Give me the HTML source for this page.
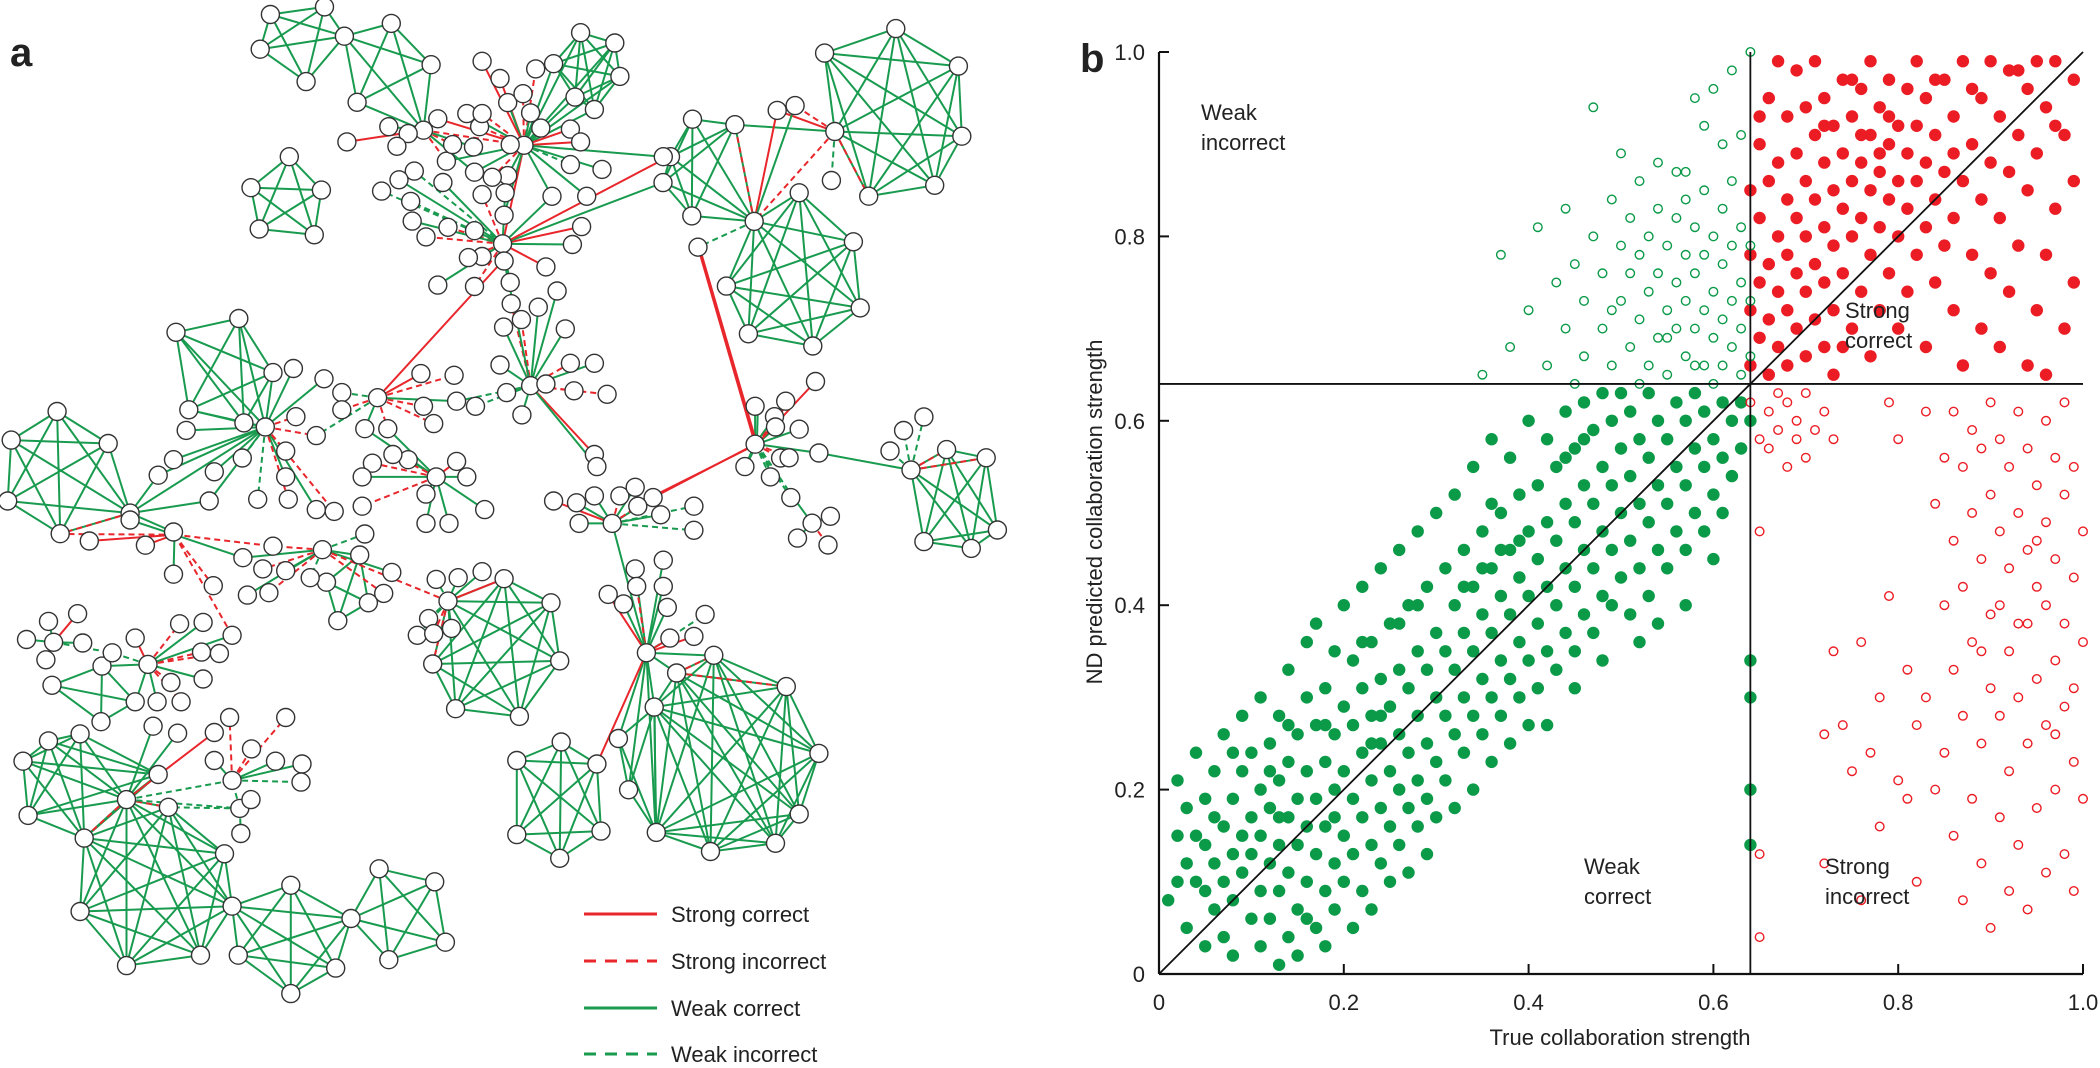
<!DOCTYPE html>
<html><head><meta charset="utf-8"><style>
html,body{margin:0;padding:0;background:#fff;}
svg{display:block;font-family:"Liberation Sans",sans-serif;}
</style></head><body>
<svg id="fig" width="2100" height="1068" viewBox="0 0 2100 1068" xmlns="http://www.w3.org/2000/svg">
<g id="net"></g>
<text x="10" y="66" font-size="40" font-weight="bold" fill="#222">a</text>
<g id="legend">
 <line x1="584" y1="914" x2="657" y2="914" stroke="#e8262b" stroke-width="3"/>
 <text x="671" y="922" font-size="22" fill="#222">Strong correct</text>
 <line x1="584" y1="961" x2="657" y2="961" stroke="#e8262b" stroke-width="3" stroke-dasharray="12,9"/>
 <text x="671" y="969" font-size="22" fill="#222">Strong incorrect</text>
 <line x1="584" y1="1008" x2="657" y2="1008" stroke="#199b4f" stroke-width="3"/>
 <text x="671" y="1016" font-size="22" fill="#222">Weak correct</text>
 <line x1="584" y1="1054" x2="657" y2="1054" stroke="#199b4f" stroke-width="3" stroke-dasharray="12,9"/>
 <text x="671" y="1062" font-size="22" fill="#222">Weak incorrect</text>
</g>
<text x="1080" y="72" font-size="40" font-weight="bold" fill="#222">b</text>
<g id="scatter"></g>
</svg>
<script>
// ---------- scatter data ----------
const xTicks=[0,0.2,0.4,0.6,0.8,1.0];
const yTicks=[0,0.2,0.4,0.6,0.8,1.0];
const tickLabels=["0","0.2","0.4","0.6","0.8","1.0"];
const threshold=0.64;
const weakCorrect=[[0.01,0.08],[0.02,0.15],[0.02,0.21],[0.03,0.05],[0.03,0.12],[0.03,0.18],[0.04,0.10],[0.04,0.24],[0.05,0.03],[0.05,0.14],[0.05,0.19],[0.06,0.07],[0.06,0.12],[0.06,0.22],[0.07,0.04],[0.07,0.16],[0.07,0.10],[0.07,0.26],[0.08,0.13],[0.08,0.19],[0.08,0.08],[0.08,0.02],[0.09,0.15],[0.09,0.22],[0.09,0.11],[0.09,0.28],[0.10,0.06],[0.10,0.17],[0.10,0.13],[0.10,0.24],[0.04,0.15],[0.06,0.17],[0.08,0.24],[0.02,0.10],[0.05,0.09],
[0.11,0.03],[0.11,0.09],[0.11,0.20],[0.11,0.15],[0.11,0.30],[0.12,0.12],[0.12,0.18],[0.12,0.25],[0.12,0.06],[0.13,0.01],[0.13,0.14],[0.13,0.21],[0.13,0.09],[0.13,0.28],[0.14,0.17],[0.14,0.04],[0.14,0.23],[0.14,0.11],[0.14,0.33],[0.15,0.07],[0.15,0.14],[0.15,0.19],[0.15,0.26],[0.15,0.02],[0.16,0.10],[0.16,0.22],[0.16,0.30],[0.16,0.16],[0.16,0.36],[0.17,0.05],[0.17,0.13],[0.17,0.19],[0.17,0.27],[0.17,0.38],[0.18,0.09],[0.18,0.16],[0.18,0.23],[0.18,0.31],[0.18,0.03],[0.19,0.12],[0.19,0.20],[0.19,0.26],[0.19,0.35],[0.19,0.07],[0.20,0.15],[0.20,0.22],[0.20,0.29],[0.20,0.40],[0.20,0.10],[0.12,0.22],[0.14,0.27],[0.16,0.06],[0.18,0.27],[0.13,0.17],[0.19,0.17],
[0.21,0.05],[0.21,0.13],[0.21,0.19],[0.21,0.27],[0.21,0.34],[0.22,0.09],[0.22,0.17],[0.22,0.24],[0.22,0.31],[0.22,0.42],[0.23,0.14],[0.23,0.21],[0.23,0.28],[0.23,0.36],[0.23,0.07],[0.24,0.18],[0.24,0.25],[0.24,0.32],[0.24,0.12],[0.24,0.44],[0.25,0.16],[0.25,0.22],[0.25,0.29],[0.25,0.38],[0.25,0.10],[0.26,0.20],[0.26,0.26],[0.26,0.33],[0.26,0.14],[0.26,0.46],[0.27,0.18],[0.27,0.24],[0.27,0.31],[0.27,0.40],[0.27,0.11],[0.28,0.21],[0.28,0.28],[0.28,0.35],[0.28,0.16],[0.28,0.48],[0.29,0.19],[0.29,0.25],[0.29,0.33],[0.29,0.42],[0.29,0.13],[0.30,0.23],[0.30,0.30],[0.30,0.37],[0.30,0.17],[0.30,0.50],[0.22,0.36],[0.24,0.28],[0.26,0.38],[0.28,0.40],[0.23,0.25],
[0.31,0.21],[0.31,0.28],[0.31,0.35],[0.31,0.44],[0.32,0.18],[0.32,0.26],[0.32,0.33],[0.32,0.40],[0.32,0.52],[0.33,0.24],[0.33,0.30],[0.33,0.37],[0.33,0.46],[0.34,0.20],[0.34,0.28],[0.34,0.35],[0.34,0.42],[0.34,0.55],[0.35,0.26],[0.35,0.32],[0.35,0.39],[0.35,0.48],[0.36,0.23],[0.36,0.30],[0.36,0.37],[0.36,0.44],[0.36,0.58],[0.37,0.28],[0.37,0.34],[0.37,0.41],[0.37,0.50],[0.38,0.25],[0.38,0.32],[0.38,0.39],[0.38,0.46],[0.38,0.56],[0.39,0.30],[0.39,0.36],[0.39,0.43],[0.39,0.52],[0.40,0.27],[0.40,0.34],[0.40,0.41],[0.40,0.48],[0.40,0.60],[0.33,0.42],[0.35,0.44],[0.37,0.46],[0.39,0.47],[0.36,0.51],
[0.41,0.31],[0.41,0.38],[0.41,0.45],[0.41,0.53],[0.42,0.35],[0.42,0.42],[0.42,0.49],[0.42,0.58],[0.43,0.33],[0.43,0.40],[0.43,0.47],[0.43,0.55],[0.44,0.37],[0.44,0.44],[0.44,0.51],[0.44,0.61],[0.45,0.35],[0.45,0.42],[0.45,0.49],[0.45,0.57],[0.46,0.39],[0.46,0.46],[0.46,0.53],[0.46,0.62],[0.47,0.37],[0.47,0.44],[0.47,0.51],[0.47,0.59],[0.48,0.41],[0.48,0.48],[0.48,0.55],[0.48,0.63],[0.49,0.40],[0.49,0.46],[0.49,0.53],[0.49,0.60],[0.50,0.43],[0.50,0.50],[0.50,0.57],[0.50,0.63],[0.42,0.27],[0.45,0.31],[0.48,0.34],[0.44,0.56],[0.46,0.58],
[0.51,0.39],[0.51,0.47],[0.51,0.54],[0.51,0.61],[0.52,0.44],[0.52,0.51],[0.52,0.58],[0.53,0.41],[0.53,0.49],[0.53,0.56],[0.53,0.63],[0.54,0.46],[0.54,0.53],[0.54,0.60],[0.55,0.44],[0.55,0.51],[0.55,0.58],[0.56,0.48],[0.56,0.55],[0.56,0.62],[0.57,0.46],[0.57,0.53],[0.57,0.60],[0.58,0.50],[0.58,0.57],[0.58,0.63],[0.59,0.48],[0.59,0.55],[0.59,0.61],[0.60,0.52],[0.60,0.58],[0.61,0.50],[0.61,0.56],[0.61,0.62],[0.62,0.54],[0.62,0.60],[0.63,0.57],[0.63,0.62],[0.54,0.38],[0.57,0.40],[0.60,0.45],[0.52,0.36],[0.64,0.60],[0.64,0.30],[0.64,0.20],[0.64,0.14],[0.64,0.34]];
const strongCorrect=[[0.64,0.66],[0.64,0.72],[0.64,0.78],[0.65,0.69],[0.65,0.75],[0.65,0.82],[0.65,0.90],[0.66,0.65],[0.66,0.71],[0.66,0.77],[0.66,0.86],[0.66,0.95],[0.67,0.68],[0.67,0.74],[0.67,0.80],[0.67,0.88],[0.68,0.66],[0.68,0.72],[0.68,0.78],[0.68,0.84],[0.68,0.93],[0.69,0.70],[0.69,0.76],[0.69,0.82],[0.69,0.89],[0.69,0.98],[0.70,0.67],[0.70,0.74],[0.70,0.80],[0.70,0.86],[0.70,0.94],[0.64,0.85],[0.65,0.93],[0.67,0.99],
[0.71,0.71],[0.71,0.77],[0.71,0.84],[0.71,0.91],[0.71,0.99],[0.72,0.68],[0.72,0.75],[0.72,0.81],[0.72,0.88],[0.72,0.95],[0.73,0.72],[0.73,0.79],[0.73,0.85],[0.73,0.92],[0.73,0.65],[0.74,0.76],[0.74,0.83],[0.74,0.89],[0.74,0.97],[0.75,0.70],[0.75,0.80],[0.75,0.86],[0.75,0.93],[0.76,0.74],[0.76,0.82],[0.76,0.88],[0.76,0.96],[0.77,0.67],[0.77,0.78],[0.77,0.85],[0.77,0.91],[0.77,0.99],[0.78,0.72],[0.78,0.81],[0.78,0.87],[0.78,0.94],[0.79,0.76],[0.79,0.84],[0.79,0.90],[0.79,0.97],[0.80,0.70],[0.80,0.80],[0.80,0.86],[0.80,0.92],[0.74,0.68],[0.76,0.91],[0.78,0.89],[0.72,0.92],[0.75,0.97],[0.79,0.93],
[0.81,0.74],[0.81,0.83],[0.81,0.89],[0.81,0.96],[0.82,0.78],[0.82,0.86],[0.82,0.92],[0.82,0.99],[0.83,0.68],[0.83,0.81],[0.83,0.88],[0.83,0.95],[0.84,0.75],[0.84,0.84],[0.84,0.91],[0.85,0.79],[0.85,0.87],[0.85,0.97],[0.86,0.72],[0.86,0.82],[0.86,0.93],[0.87,0.66],[0.87,0.86],[0.87,0.99],[0.88,0.78],[0.88,0.90],[0.89,0.70],[0.89,0.84],[0.89,0.95],[0.90,0.76],[0.90,0.88],[0.90,0.99],[0.84,0.97],[0.86,0.89],[0.88,0.96],
[0.91,0.68],[0.91,0.82],[0.91,0.93],[0.92,0.74],[0.92,0.87],[0.92,0.98],[0.93,0.79],[0.93,0.91],[0.94,0.66],[0.94,0.85],[0.94,0.96],[0.95,0.72],[0.95,0.89],[0.96,0.78],[0.96,0.94],[0.97,0.83],[0.97,0.99],[0.98,0.70],[0.98,0.91],[0.99,0.86],[0.99,0.97],[0.99,0.75],[0.96,0.65],[0.93,0.98],[0.97,0.92],[0.95,0.99]];
const weakIncorrect=[[0.35,0.65],[0.37,0.78],[0.38,0.68],[0.40,0.72],[0.41,0.81],[0.42,0.66],[0.43,0.75],[0.44,0.70],[0.44,0.83],[0.45,0.77],[0.46,0.67],[0.46,0.73],[0.47,0.80],[0.47,0.94],[0.48,0.70],[0.48,0.76],[0.49,0.66],[0.49,0.84],[0.50,0.73],[0.50,0.79],[0.50,0.89],[0.51,0.68],[0.51,0.76],[0.51,0.82],[0.52,0.71],[0.52,0.78],[0.52,0.86],[0.53,0.66],[0.53,0.74],[0.53,0.80],[0.54,0.69],[0.54,0.76],[0.54,0.83],[0.55,0.72],[0.55,0.79],[0.55,0.65],[0.56,0.70],[0.56,0.75],[0.56,0.82],[0.56,0.87],[0.57,0.67],[0.57,0.73],[0.57,0.78],[0.57,0.84],[0.58,0.70],[0.58,0.76],[0.58,0.81],[0.58,0.95],[0.59,0.66],[0.59,0.72],[0.59,0.78],[0.59,0.85],[0.60,0.69],[0.60,0.74],[0.60,0.80],[0.60,0.96],[0.61,0.66],[0.61,0.71],[0.61,0.77],[0.61,0.83],[0.62,0.68],[0.62,0.73],[0.62,0.79],[0.62,0.86],[0.62,0.98],[0.63,0.65],[0.63,0.70],[0.63,0.75],[0.63,0.81],[0.63,0.91],[0.64,0.67],[0.64,0.73],[0.64,0.79],[0.64,1.00],[0.55,0.69],[0.58,0.66],[0.60,0.64],[0.52,0.64],[0.49,0.72],[0.45,0.64],[0.57,0.87],[0.61,0.90],[0.54,0.88],[0.59,0.92]];
const strongIncorrect=[[0.64,0.62],[0.65,0.58],[0.65,0.48],[0.65,0.13],[0.65,0.04],[0.66,0.61],[0.66,0.57],[0.67,0.63],[0.67,0.59],[0.68,0.55],[0.68,0.62],[0.69,0.58],[0.69,0.60],[0.70,0.56],[0.70,0.63],[0.71,0.59],[0.72,0.61],[0.72,0.26],[0.72,0.12],[0.73,0.35],[0.73,0.58],[0.74,0.27],[0.75,0.22],[0.76,0.08],[0.76,0.36],[0.77,0.24],[0.78,0.16],[0.78,0.30],[0.79,0.62],[0.79,0.41],[0.80,0.21],[0.80,0.58],[0.81,0.19],[0.81,0.33],[0.82,0.27],[0.82,0.10],[0.83,0.30],[0.83,0.61],[0.84,0.20],[0.84,0.51],[0.85,0.24],[0.85,0.40],[0.85,0.56],[0.86,0.15],[0.86,0.33],[0.86,0.47],[0.86,0.61],[0.87,0.08],[0.87,0.28],[0.87,0.42],[0.87,0.55],[0.88,0.19],[0.88,0.36],[0.88,0.50],[0.88,0.59],[0.89,0.12],[0.89,0.25],[0.89,0.45],[0.89,0.57],[0.90,0.05],[0.90,0.31],[0.90,0.39],[0.90,0.52],[0.90,0.62],[0.91,0.17],[0.91,0.28],[0.91,0.48],[0.91,0.58],[0.92,0.09],[0.92,0.22],[0.92,0.35],[0.92,0.44],[0.92,0.55],[0.93,0.14],[0.93,0.30],[0.93,0.50],[0.93,0.61],[0.94,0.07],[0.94,0.25],[0.94,0.38],[0.94,0.46],[0.94,0.57],[0.95,0.18],[0.95,0.32],[0.95,0.42],[0.95,0.53],[0.96,0.11],[0.96,0.27],[0.96,0.40],[0.96,0.49],[0.96,0.60],[0.97,0.20],[0.97,0.34],[0.97,0.45],[0.97,0.56],[0.98,0.13],[0.98,0.29],[0.98,0.38],[0.98,0.52],[0.98,0.62],[0.99,0.09],[0.99,0.23],[0.99,0.43],[0.99,0.55],[1.00,0.19],[1.00,0.36],[1.00,0.48],[0.93,0.38],[0.91,0.40],[0.89,0.35],[0.95,0.47],[0.97,0.26],[0.99,0.31]];

// ---------- network data (zoom-frame coordinates) ----------
const netCliques=[
 ["z1",[[530,42],[636,20],[510,143],[600,237],[675,105]]],
 ["z1",[[675,105],[767,68],[845,188],[700,297],[830,378]]],
 ["z1",[[567,455],[492,545],[630,552],[508,665],[616,682]]],
 ["z1",[[1138,95],[1205,125],[1215,222],[1085,185],[1127,282],[1165,318],[1027,422]]],
 ["z1",[[345,965],[468,925],[535,1082],[370,1190],[478,1228],[520,1240]]],
 ["z1",[[112,1195],[22,1278],[212,1288],[15,1455],[118,1550],[255,1490]]],
 ["z6",[[755,42],[545,78],[940,97],[950,200],[870,272],[675,288],[575,193]]],
 ["z6",[[470,283],[337,325],[630,355],[255,420],[650,452],[320,490],[510,508]]],
 ["z6",[[155,175],[280,183],[90,230],[68,268],[153,317],[337,325]]],
 ["z6",[[800,690],[905,660],[1022,672],[1055,778],[978,805],[838,795]]],
 ["z6",[[218,962],[108,988],[432,1008],[42,1038],[528,1106],[470,1195],[400,1238],[208,1250],[48,1222]]],
 ["z2",[[988,168],[1080,237],[1097,403],[1018,562],[893,540],[848,412],[878,232]]],
 ["z2",[[45,690],[95,632],[157,612],[55,845],[165,910],[248,800],[310,728]]],
 ["z2",[[165,910],[330,822],[440,955],[455,1105],[393,1245],[248,1275],[157,1120],[248,800]]],
 ["z2",[[455,1105],[570,1045],[688,1140],[658,1282],[570,1355],[467,1245]]],
 ["z2",[[688,1140],[743,998],[852,1035],[873,1208],[762,1258]]],
 ["z2",[[1013,688],[1100,635],[1170,698],[1178,890],[1097,968],[1013,900]]],
 ["z2",[[1283,538],[1212,625],[1232,772],[1285,890],[1267,380]]],
 ["z2",[[200,418],[102,473],[265,520],[198,577]]],
 ["z2",[[640,178],[662,288],[722,237],[705,100]]]
];
const netStars=[
 ["z1",[1027,422],[[1000,420,"g"],[940,368,"rd"],[858,345,"r"],[915,330,"g"],[945,330,"rd"],[1060,372,"g"],[1118,375,"r"],[1138,412,"r"],[1118,478,"gd"],[1180,492,"g"],[1300,455,"g"],[995,510,"g"],[965,515,"rd"],[930,500,"g"],[875,468,"g"],[1082,570,"g"],[1150,570,"g"],[985,708,"r"],[988,625,"g"],[1050,200,"rd"],[980,228,"r"],[995,298,"g"],[1025,272,"rd"],[1040,328,"g"],[945,178,"r"]]],
 ["z1",[830,378],[[762,368,"g"],[800,388,"g"],[778,425,"g"],[680,412,"r"],[887,420,"rd"],[928,427,"g"],[875,468,"rd"],[930,500,"g"],[1027,422,"rd"]]],
 ["z1",[985,708],[[1140,658,"r"],[1122,710,"g"],[1070,775,"r"],[988,758,"g"],[945,745,"g"],[918,748,"rd"],[878,660,"rd"],[930,670,"g"],[1300,530,"g"],[1310,455,"r"],[805,585,"gd"],[868,530,"g"],[812,497,"gd"],[782,522,"g"],[748,555,"gd"],[808,642,"g"],[835,688,"rd"],[858,828,"g"],[930,832,"rd"],[990,560,"g"],[945,565,"rd"],[1082,570,"g"],[1000,820,"g"]]],
 ["z1",[1040,1120],[[980,1060,"g"],[993,1140,"g"],[1023,1205,"g"],[1070,1115,"rd"],[1125,1135,"rd"],[1118,1055,"rd"],[1165,1055,"g"],[1190,1145,"rd"],[1108,955,"g"],[1092,845,"g"],[1002,882,"rd"],[1055,892,"g"],[1022,928,"rd"],[987,950,"g"],[1165,1320,"r"],[1170,1355,"g"],[932,1180,"gd"],[895,1165,"gd"],[988,758,"g"]]],
 ["z1",[1480,1290],[[1480,1180,"g"],[1518,1210,"rd"],[1540,1165,"g"],[1520,1240,"g"],[1530,1330,"rd"],[1460,1355,"g"],[1510,1385,"gd"],[1550,1445,"gd"],[1280,1445,"r"],[1368,718,"r"]]],
 ["z1",[1200,1520],[[1130,1460,"g"],[1165,1440,"g"],[1215,1440,"rd"],[1245,1415,"g"],[1280,1445,"g"],[1295,1495,"g"],[1360,1470,"gd"],[1360,1540,"gd"],[1250,1470,"rd"],[1135,1520,"g"],[1085,1455,"r"]]],
 ["z1",[855,1385],[[715,1245,"g"],[760,1245,"g"],[800,1335,"g"],[770,1320,"rd"],[895,1340,"r"],[915,1385,"g"],[950,1480,"g"],[880,1520,"g"],[835,1520,"g"],[835,1435,"g"],[710,1470,"rd"],[730,1345,"rd"],[710,1385,"g"]]],
 ["z1",[740,1155],[[670,1140,"gd"],[670,1190,"rd"],[715,1245,"g"],[760,1245,"rd"],[830,1180,"rd"],[890,1090,"rd"],[825,1085,"r"],[900,1165,"g"],[620,1265,"gd"],[850,1230,"rd"],[985,758,"r"]]],
 ["z1",[520,1240],[[575,1070,"g"],[635,1100,"g"],[580,1210,"rd"],[620,1265,"rd"],[560,1310,"rd"],[560,1385,"g"],[505,1450,"gd"],[475,1330,"gd"],[365,1250,"g"],[340,1335,"g"],[420,1370,"g"],[310,1380,"g"],[410,1455,"g"],[255,1490,"g"],[565,1450,"rd"],[620,1480,"g"],[655,1485,"rd"]]],
 ["z1",[255,1490],[[310,1380,"g"],[410,1455,"g"],[340,1545,"g"],[118,1550,"rd"]]],
 ["z2",[342,42],[[285,72,"r"],[340,155,"g"],[418,188,"rd"],[476,108,"g"],[535,75,"rd"],[175,60,"r"],[120,40,"rd"],[255,0,"g"],[455,330,"rd"]]],
 ["z2",[632,85],[[535,75,"rd"],[476,108,"g"],[515,140,"rd"],[560,145,"g"],[700,100,"g"],[715,40,"gd"],[768,150,"g"],[752,210,"rd"],[878,232,"rd"],[608,165,"gd"],[485,215,"g"],[527,208,"rd"]]],
 ["z2",[878,232],[[855,170,"gd"],[898,165,"g"],[945,148,"g"],[988,168,"r"],[840,282,"gd"],[818,330,"gd"],[850,325,"rd"],[885,310,"g"],[848,412,"rd"]]],
 ["z2",[105,350],[[52,342,"g"],[95,290,"g"],[90,400,"g"],[162,352,"g"],[152,268,"r"],[220,380,"gd"]]],
 ["z2",[290,413],[[265,338,"r"],[352,297,"rd"],[398,293,"g"],[395,378,"rd"],[430,382,"rd"],[398,455,"g"],[335,465,"rd"],[266,520,"g"],[308,520,"g"],[355,520,"rd"],[220,380,"gd"],[200,418,"g"],[455,330,"g"]]],
 ["z2",[248,800],[[330,822,"rd"],[165,910,"rd"],[310,728,"g"],[420,608,"r"],[455,745,"gd"],[470,825,"gd"],[348,610,"g"],[300,590,"g"]]],
 ["z2",[470,825],[[472,897,"gd"],[455,745,"gd"],[492,800,"g"],[330,822,"gd"]]],
 ["z2",[455,745],[[450,565,"rd"],[560,565,"rd"],[420,688,"g"],[493,655,"rd"],[540,690,"g"],[592,698,"g"],[590,750,"gd"]]],
 ["z2",[1267,380],[[1245,140,"g"],[1300,115,"g"],[1248,190,"rd"],[1300,190,"g"],[1308,250,"g"],[1222,240,"g"],[1192,213,"r"],[1382,270,"gd"],[1313,338,"r"],[1360,333,"r"],[1200,10,"g"],[1398,388,"g"],[1170,698,"r"]]],
 ["z6",[345,652],[[348,595,"g"],[440,590,"rd"],[408,625,"g"],[470,630,"g"],[440,672,"rd"],[528,665,"g"],[312,685,"g"],[393,700,"gd"],[455,732,"gd"],[518,560,"r"],[175,362,"r"],[40,728,"r"]]],
 ["z6",[800,690],[[528,665,"g"],[738,662,"gd"],[778,632,"gd"],[838,612,"gd"],[905,660,"rd"],[1022,672,"rd"]]],
 ["z6",[508,768],[[455,732,"g"],[465,790,"g"],[555,800,"rd"],[562,758,"g"]]],
 ["z6",[575,193],[[458,155,"rd"],[405,162,"r"],[337,325,"rd"],[280,183,"g"],[565,265,"gd"],[675,288,"rd"]]],
 ["z6",[337,325],[[405,162,"r"],[175,362,"gd"],[280,183,"rd"],[458,155,"g"]]],
 ["z6",[108,988],[[432,1008,"rd"],[218,962,"rd"],[20,958,"g"]]]
];

const GREEN="#199b4f", RED="#e8262b";
const NS="http://www.w3.org/2000/svg";
function conv(f,p){
  if(f==="z1") return [p[0]/1.96,p[1]/2.904];
  if(f==="z2") return [p[0]/1.96,520+p[1]/2.861];
  return [640+p[0]/2.952,p[1]/1.468];
}
const net=document.getElementById('net');
const edgeG=document.createElementNS(NS,'g');


net.appendChild(edgeG);
const nodeG=document.createElementNS(NS,'g');


net.appendChild(nodeG);
const nodes=[];
function addNode(p){
  for(const q of nodes){ if(Math.abs(q[0]-p[0])<4 && Math.abs(q[1]-p[1])<4) return; }
  nodes.push(p);
}
function edge(a,b,t){
  const l=document.createElementNS(NS,'line');
  l.setAttribute('x1',a[0].toFixed(1));l.setAttribute('y1',a[1].toFixed(1));
  l.setAttribute('x2',b[0].toFixed(1));l.setAttribute('y2',b[1].toFixed(1));
  l.setAttribute('stroke',t[0]==='r'?RED:GREEN);
  l.setAttribute('stroke-width','2');
  if(t.length>1) l.setAttribute('stroke-dasharray','6,4');
  
  
  edgeG.appendChild(l);
}
for(const [f,pts] of netCliques){
  const P=pts.map(p=>conv(f,p));
  P.forEach(addNode);
  for(let i=0;i<P.length;i++)for(let j=i+1;j<P.length;j++) edge(P[i],P[j],"g");
}
for(const [f,h,leaves] of netStars){
  const H=conv(f,h); addNode(H);
  for(const L of leaves){ const P=conv(f,[L[0],L[1]]); addNode(P); edge(H,P,L[2]); }
}
for(const p of nodes){
  const c=document.createElementNS(NS,'circle');
  c.setAttribute('cx',p[0].toFixed(1));c.setAttribute('cy',p[1].toFixed(1));
  c.setAttribute('r','9');c.setAttribute('fill','#fff');
  c.setAttribute('stroke','#333');c.setAttribute('stroke-width','1.4');
  
  
  nodeG.appendChild(c);
}

// ---------- scatter ----------
const X0=1159,X1=2083,Y0=974,Y1=52;
const sx=v=>X0+v*(X1-X0), sy=v=>Y0-v*(Y0-Y1);
const sc=document.getElementById('scatter');
function mk(tag,attrs,name,parent){
  const e=document.createElementNS(NS,tag);
  for(const k in attrs) e.setAttribute(k,attrs[k]);
  
  
  (parent||sc).appendChild(e); return e;
}
const pts=mk('g',{},'scatter-points');
function dots(arr,color,open,name){
  for(const d of arr){
    const c=document.createElementNS(NS,'circle');
    c.setAttribute('cx',sx(d[0]).toFixed(1));c.setAttribute('cy',sy(d[1]).toFixed(1));
    if(open){c.setAttribute('r','4.3');c.setAttribute('fill','none');c.setAttribute('stroke',color);c.setAttribute('stroke-width','1.4');}
    else{c.setAttribute('r','6.2');c.setAttribute('fill',color);}
    
    
    pts.appendChild(c);
  }
}
dots(weakCorrect,"#0a9a48",false,'weak-correct-point');
dots(strongCorrect,"#ec1c24",false,'strong-correct-point');
dots(weakIncorrect,"#0a9a48",true,'weak-incorrect-point');
dots(strongIncorrect,"#ec1c24",true,'strong-incorrect-point');
mk('line',{x1:sx(0),y1:sy(0),x2:sx(1),y2:sy(1),stroke:'#111','stroke-width':1.8},'identity-line');
mk('line',{x1:sx(threshold),y1:sy(0),x2:sx(threshold),y2:sy(1),stroke:'#111','stroke-width':1.8},'threshold-vertical');
mk('line',{x1:sx(0),y1:sy(threshold),x2:sx(1),y2:sy(threshold),stroke:'#111','stroke-width':1.8},'threshold-horizontal');
mk('line',{x1:X0,y1:Y1,x2:X0,y2:Y0,stroke:'#111','stroke-width':2.2},'y-axis');
mk('line',{x1:X0,y1:Y0,x2:X1,y2:Y0,stroke:'#111','stroke-width':2.2},'x-axis');
xTicks.forEach((v,i)=>{
  mk('line',{x1:sx(v),y1:Y0,x2:sx(v),y2:Y0-10,stroke:'#111','stroke-width':2},'x-tick');
  const t=mk('text',{x:sx(v),y:Y0+36,'font-size':22,'text-anchor':'middle',fill:'#222'},'x-tick-label');
  t.textContent=tickLabels[i];
});
yTicks.forEach((v,i)=>{
  mk('line',{x1:X0,y1:sy(v),x2:X0+10,y2:sy(v),stroke:'#111','stroke-width':2},'y-tick');
  const t=mk('text',{x:X0-14,y:sy(v)+8,'font-size':22,'text-anchor':'end',fill:'#222'},'y-tick-label');
  t.textContent=tickLabels[i];
});
const xt=mk('text',{x:1620,y:1045,'font-size':22,'text-anchor':'middle',fill:'#222'},'x-axis-title');
xt.textContent='True collaboration strength';
const yt=mk('text',{x:0,y:0,'font-size':22,'text-anchor':'middle',fill:'#222',transform:'translate(1102,512) rotate(-90)'},'y-axis-title');
yt.textContent='ND predicted collaboration strength';
function region(x,y,l1,l2,name){
  const t=mk('text',{x:x,y:y,'font-size':22,fill:'#222'},name);
  const a=document.createElementNS(NS,'tspan');a.setAttribute('x',x);a.textContent=l1;t.appendChild(a);
  const b=document.createElementNS(NS,'tspan');b.setAttribute('x',x);b.setAttribute('dy','30');b.textContent=l2;t.appendChild(b);
}
region(1201,120,'Weak','incorrect','region-label-weak-incorrect');
region(1845,318,'Strong','correct','region-label-strong-correct');
region(1584,874,'Weak','correct','region-label-weak-correct');
region(1825,874,'Strong','incorrect','region-label-strong-incorrect');
</script>
</body></html>
